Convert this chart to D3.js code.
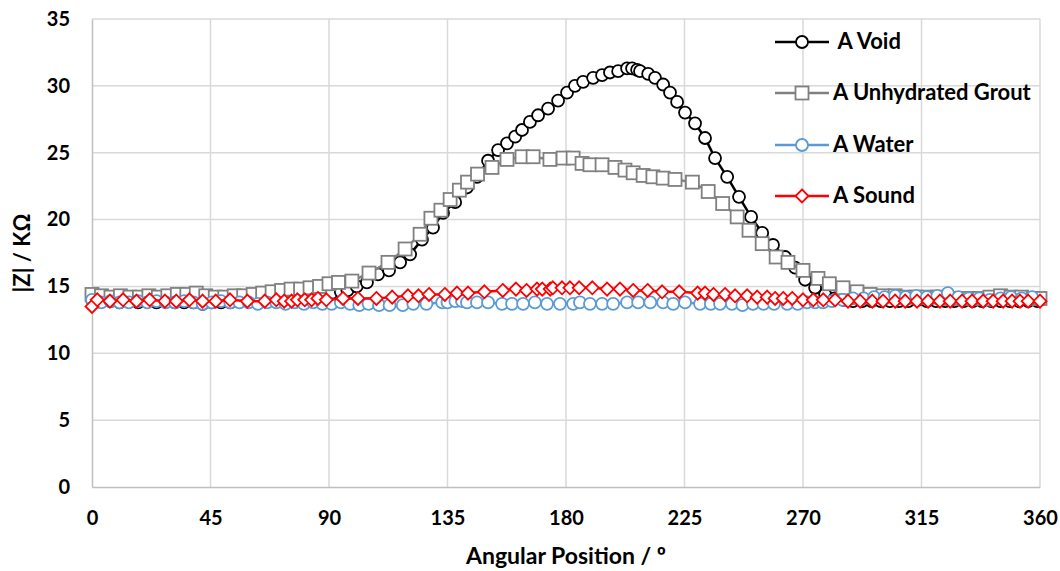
<!DOCTYPE html>
<html>
<head>
<meta charset="utf-8">
<script src="https://cdn.jsdelivr.net/npm/d3@7"></script>
<style>
  body { margin: 0; background: #fff; }
  svg text { font-family: Lato, "Open Sans", sans-serif; font-weight: bold; fill: #000; }
</style>
</head>
<body>
<div id="container"></div>
<script>
const WIDTH = 1060;
const HEIGHT = 571;
const MARGIN = { top: 19, right: 20, bottom: 84, left: 92 };

const xTicks = [0, 45, 90, 135, 180, 225, 270, 315, 360];
const yTicks = [0, 5, 10, 15, 20, 25, 30, 35];

const seriesNames = [" A Void", "A Unhydrated Grout", "A Water", "A Sound"];

// [angle, |Z|]
const voidData = [
  [0, 14.0], [3.5, 13.9], [7, 13.9], [10.5, 13.8], [14, 13.9], [17.5, 13.8], [21, 13.9], [24.5, 13.8],
  [28, 13.9], [31.5, 13.8], [35, 13.8], [38.5, 13.8], [42, 13.7], [45.5, 13.8], [49, 13.8], [52.5, 13.8],
  [56, 13.9], [59.5, 13.9], [63, 13.9], [66.5, 13.9], [70, 14.0], [73.5, 14.0], [77, 14.1], [80.5, 14.1],
  [84, 14.2], [87.5, 14.3], [91, 14.5], [94.5, 14.6], [97, 14.7], [100.5, 15.0], [104.4, 15.3], [108.6, 15.9],
  [112.8, 16.2], [117, 16.8], [120.8, 17.4], [125.3, 18.5], [129.5, 19.4], [133.3, 20.5], [137.9, 21.3],
  [142.4, 22.4], [146.2, 23.2], [150.4, 24.4], [154.2, 25.2], [157.6, 25.7], [160.7, 26.2], [163.3, 26.7],
  [166.3, 27.3], [169.4, 27.8], [173.2, 28.3], [177, 28.9], [180.4, 29.5], [183.4, 30.0], [186.5, 30.3],
  [190.3, 30.6], [193.7, 30.8], [196.7, 31.0], [199.8, 31.1], [203.2, 31.3], [205.1, 31.3], [207, 31.2],
  [208.1, 31.1], [211.2, 30.9], [213.8, 30.6], [216.9, 30.1], [219.5, 29.5], [222.2, 28.8], [225.2, 28.0],
  [229, 27.2], [232.8, 26.1], [236.6, 24.6], [241.2, 23.2], [245.7, 21.7], [250.3, 20.2], [254.5, 19.0],
  [258.6, 18.1], [263.2, 17.2], [267, 16.4], [270.8, 15.5], [274.6, 14.9], [278.4, 14.4], [282, 14.1],
  [285.5, 14.0], [289, 13.9], [292.5, 13.9], [296, 13.9], [299.5, 13.9], [303, 13.9], [306.5, 13.9],
  [310, 13.9], [313.5, 14.0], [317, 13.9], [320.5, 13.9], [324, 13.9], [327.5, 13.9], [331, 13.9],
  [334.5, 13.9], [338, 13.9], [341.5, 13.9], [345, 13.9], [348.5, 13.9], [352, 13.9], [355.5, 13.9], [359, 13.9]
];

const groutData = [
  [0, 14.4], [3.6, 14.3], [7.2, 14.2], [10.8, 14.3], [14.4, 14.2], [18, 14.2], [21.6, 14.3], [25.2, 14.2],
  [28.8, 14.3], [32.4, 14.4], [36, 14.4], [39.6, 14.5], [43.2, 14.3], [46.8, 14.2], [50.4, 14.2], [54, 14.3],
  [57.6, 14.3], [61.2, 14.4], [64.8, 14.5], [68.4, 14.6], [72, 14.7], [75.6, 14.8], [79.2, 14.8], [82.8, 14.9],
  [86.4, 15.0], [90, 15.2], [93.6, 15.3], [98.7, 15.4], [105.2, 16.0], [112.4, 16.8], [118.9, 17.8],
  [124.6, 18.9], [128.7, 20.1], [132.5, 20.7], [136, 21.5], [139.5, 22.2], [142.6, 22.8], [146.4, 23.4],
  [151.9, 23.9], [157.6, 24.5], [163.3, 24.7], [167.5, 24.7], [173.9, 24.5], [178.9, 24.6], [182.7, 24.6],
  [186.1, 24.2], [189.1, 24.1], [193.7, 24.1], [198.6, 23.9], [202.4, 23.7], [205.5, 23.5], [209.3, 23.3],
  [213, 23.2], [216.9, 23.1], [221.4, 23.0], [228, 22.8], [234, 22.1], [239.5, 21.2], [245, 20.2],
  [249.5, 19.2], [254.5, 18.2], [259.8, 17.2], [264.3, 16.8], [270, 16.2], [275.7, 15.6], [280, 15.2],
  [285.2, 14.9], [290.5, 14.6], [295.5, 14.4], [300.4, 14.3], [305, 14.3], [309, 14.2], [313, 14.2],
  [317, 14.2], [321, 14.2], [325, 14.1], [329, 14.1], [333, 14.1], [337, 14.1], [341, 14.2], [345, 14.3],
  [349, 14.2], [353, 14.2], [357.4, 14.1], [360, 14.1]
];

const waterData = [
  [0, 14.0], [3.5, 13.8], [7, 13.9], [10.5, 13.8], [14, 13.8], [17.5, 13.9], [21, 13.8], [24.5, 13.9],
  [28, 13.8], [31.5, 13.8], [35, 13.9], [38.5, 13.8], [42, 13.7], [45.5, 13.8], [49, 13.9], [52.5, 13.8],
  [56, 13.8], [59.5, 13.8], [63, 13.7], [66.5, 13.8], [70, 13.8], [73.5, 13.7], [77, 13.8], [80.5, 13.7],
  [84, 13.8], [87.5, 13.7], [91, 13.7], [94.5, 13.8], [98, 13.7], [101.5, 13.6], [105, 13.7], [109, 13.6],
  [113, 13.6], [118, 13.6], [122, 13.7], [127, 13.7], [133, 13.8], [135, 13.8], [138, 13.9], [140.5, 13.9],
  [142.4, 13.8], [146.2, 13.8], [150.4, 13.8], [155.7, 13.7], [159.5, 13.7], [163.7, 13.7], [168.2, 13.8],
  [172.8, 13.7], [177.7, 13.7], [182.7, 13.7], [185.3, 13.8], [189.1, 13.7], [193.7, 13.7], [197.9, 13.7],
  [203.2, 13.8], [207.4, 13.8], [212, 13.8], [216.9, 13.8], [220.7, 13.7], [225.2, 13.8], [230.9, 13.7],
  [235, 13.7], [238.5, 13.7], [243, 13.7], [247, 13.6], [251, 13.7], [255, 13.7], [259, 13.7], [264, 13.7],
  [268, 13.7], [271.5, 13.8], [274.6, 13.8], [277.6, 13.8], [281, 13.9], [285, 14.0], [289, 14.1],
  [293, 14.1], [297, 14.2], [301, 14.2], [305, 14.3], [309, 14.2], [313, 14.3], [317, 14.2], [321, 14.3],
  [325, 14.5], [329, 14.2], [333, 14.1], [337, 14.1], [341, 14.0], [345, 14.1], [349, 14.2], [353, 14.1],
  [357, 14.2]
];

const soundData = [
  [0, 13.5], [2, 14.0], [6.8, 13.9], [11.8, 14.0], [16.9, 13.9], [21.9, 14.0], [27.7, 13.9], [32, 13.9],
  [37, 14.0], [42, 13.9], [47, 13.9], [52.4, 14.0], [59, 13.9], [65.6, 13.9], [70, 14.0], [73, 13.9],
  [75.8, 13.9], [78, 14.0], [80.8, 14.0], [83.4, 14.0], [85.8, 14.1], [89, 14.0], [95.3, 14.1], [101, 14.1],
  [108, 14.1], [114, 14.2], [120, 14.3], [124, 14.3], [128, 14.4], [134, 14.4], [138.6, 14.5], [142.8, 14.5],
  [149, 14.6], [156, 14.7], [161, 14.8], [165, 14.7], [169, 14.8], [171, 14.8], [174, 14.8], [175, 14.9],
  [178.5, 14.9], [181.5, 14.9], [185, 14.9], [190, 14.9], [195.6, 14.8], [200.5, 14.8], [205.5, 14.7],
  [211, 14.7], [216.5, 14.6], [223, 14.6], [230, 14.5], [232.8, 14.5], [236, 14.4], [240.4, 14.4],
  [244.2, 14.3], [248.8, 14.3], [252.6, 14.2], [256.4, 14.2], [259.4, 14.1], [262.5, 14.1], [265.9, 14.1],
  [270, 14.0], [273.9, 14.0], [277.7, 14.0], [282.2, 14.0], [287.1, 13.9], [291.7, 13.9], [296.3, 13.9],
  [300.4, 13.9], [305, 13.9], [308.8, 13.9], [313.3, 13.9], [317.5, 13.9], [322, 13.9], [325.9, 13.9],
  [330.4, 13.9], [334.2, 13.9], [338.4, 13.9], [342.2, 13.9], [346, 13.9], [349.4, 13.9], [352.4, 13.9],
  [355.5, 13.9], [360, 13.9]
];

const seriesColors = ["#000000", "#808080", "#5b9bd5", "#ff0000"];
const seriesShapes = ["circle", "square", "circle", "diamond"];
const seriesData = [voidData, groutData, waterData, soundData];

const svg = d3.select("#container")
  .append("svg")
  .attr("width", WIDTH)
  .attr("height", HEIGHT);

const x = d3.scaleLinear().domain([0, 360]).range([MARGIN.left, WIDTH - MARGIN.right]);
const y = d3.scaleLinear().domain([0, 35]).range([HEIGHT - MARGIN.bottom, MARGIN.top]);

// gridlines
svg.append("g")
  .selectAll("line.gx")
  .data(xTicks.slice(1))
  .join("line")
  .attr("x1", (d) => x(d)).attr("x2", (d) => x(d))
  .attr("y1", y(0)).attr("y2", y(35))
  .attr("stroke", "#d9d9d9").attr("stroke-width", 1.5);

svg.append("g")
  .selectAll("line.gy")
  .data(yTicks.slice(1))
  .join("line")
  .attr("x1", x(0)).attr("x2", x(360))
  .attr("y1", (d) => y(d)).attr("y2", (d) => y(d))
  .attr("stroke", "#d9d9d9").attr("stroke-width", 1.5);

// axes
const xAxis = svg.append("g")
  .attr("transform", `translate(0, ${y(0)})`)
  .call(d3.axisBottom(x).tickValues(xTicks).tickSize(0).tickPadding(24));
xAxis.select(".domain").attr("stroke", "#bfbfbf").attr("stroke-width", 1.5);
xAxis.selectAll("text").style("font-size", "20px");

const yAxis = svg.append("g")
  .attr("transform", `translate(${x(0)}, 0)`)
  .call(d3.axisLeft(y).tickValues(yTicks).tickSize(0).tickPadding(22));
yAxis.select(".domain").attr("stroke", "#bfbfbf").attr("stroke-width", 1.5);
yAxis.selectAll("text").style("font-size", "20px");

// titles
svg.append("text")
  .attr("x", (x(0) + x(360)) / 2)
  .attr("y", 564)
  .attr("text-anchor", "middle")
  .style("font-size", "23px")
  .text("Angular Position / º");

svg.append("text")
  .attr("transform", `translate(30, ${y(17.5)}) rotate(-90)`)
  .attr("text-anchor", "middle")
  .style("font-size", "22px")
  .text("|Z| / KΩ");

const line = d3.line().x((d) => x(d[0])).y((d) => y(d[1]));

function drawMarker(g, shape, color) {
  if (shape === "circle") {
    g.append("circle").attr("r", 6)
      .attr("fill", "#fff").attr("stroke", color).attr("stroke-width", 1.8);
  } else if (shape === "square") {
    g.append("rect").attr("x", -6.5).attr("y", -6.5).attr("width", 13).attr("height", 13)
      .attr("fill", "#fff").attr("stroke", color).attr("stroke-width", 1.8);
  } else {
    g.append("path").attr("d", "M0,-6.5L6.5,0L0,6.5L-6.5,0Z")
      .attr("fill", "#fff").attr("stroke", color).attr("stroke-width", 1.8);
  }
}

seriesData.forEach((data, i) => {
  const g = svg.append("g");
  g.append("path")
    .datum(data)
    .attr("d", line)
    .attr("fill", "none")
    .attr("stroke", seriesColors[i])
    .attr("stroke-width", 2.5);
  g.selectAll("g.pt")
    .data(data)
    .join("g")
    .attr("transform", (d) => `translate(${x(d[0])}, ${y(d[1])})`)
    .each(function () { drawMarker(d3.select(this), seriesShapes[i], seriesColors[i]); });
});

// legend
const legendY = [42, 93, 145, 196];
seriesNames.forEach((name, i) => {
  const g = svg.append("g").attr("transform", `translate(775, ${legendY[i]})`);
  g.append("line").attr("x1", 0).attr("x2", 54)
    .attr("stroke", seriesColors[i]).attr("stroke-width", 2.5);
  const m = g.append("g").attr("transform", "translate(27, 0)");
  drawMarker(m, seriesShapes[i], seriesColors[i]);
  g.append("text")
    .attr("x", 58)
    .attr("y", 7)
    .style("font-size", "22px")
    .style("white-space", "pre")
    .attr("xml:space", "preserve")
    .text(name);
});
</script>
</body>
</html>
